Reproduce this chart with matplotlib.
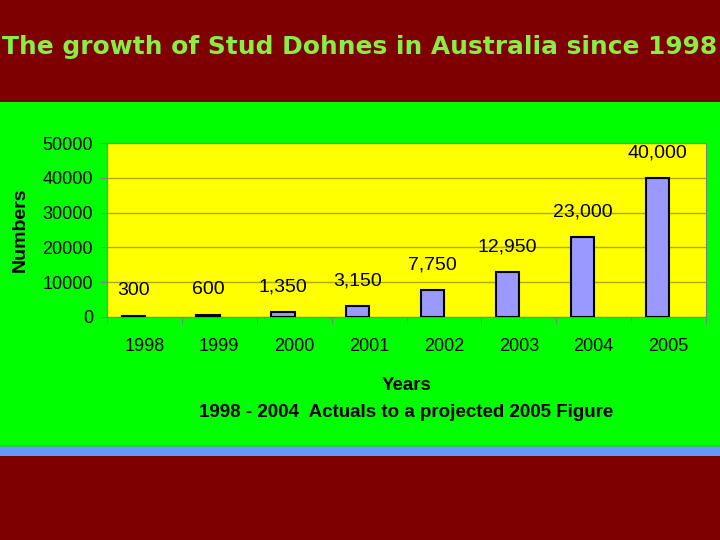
import matplotlib
matplotlib.use("Agg")
import matplotlib.pyplot as plt
from matplotlib.patches import Rectangle
import numpy as np

years = ["1998", "1999", "2000", "2001", "2002", "2003", "2004", "2005"]
numbers = [300, 600, 1350, 3150, 7750, 12950, 23000, 40000]
bar_labels = ["300", "600", "1,350", "3,150", "7,750", "12,950", "23,000", "40,000"]
yticks = [0, 10000, 20000, 30000, 40000, 50000]

plt.rcParams['font.family'] = ['Liberation Sans', 'DejaVu Sans']

fig = plt.figure(figsize=(7.2, 5.4), dpi=100)
fig.patch.set_facecolor('#7f0000')

# green panel and blue strip
fig.patches.append(Rectangle((0, 0.174), 1, 0.637, transform=fig.transFigure,
                             facecolor='#00ff00', edgecolor='none', zorder=-10))
fig.patches.append(Rectangle((0, 0.172), 1, 0.004, transform=fig.transFigure,
                             facecolor='#33bb66', edgecolor='none', zorder=-10))
fig.patches.append(Rectangle((0, 0.156), 1, 0.017, transform=fig.transFigure,
                             facecolor='#6699ff', edgecolor='none', zorder=-10))

fig.text(0.5, 0.913, "The growth of Stud Dohnes in Australia since 1998",
         ha='center', va='center', fontsize=17.95, color='#88ee44',
         family=['DejaVu Sans'], fontweight='bold')

ax = fig.add_axes([0.1486, 0.413, 0.832, 0.322])
ax.set_zorder(5)
ax.set_facecolor('#ffff00')

x = np.arange(len(years))
ax.bar(x - 0.15, numbers, width=0.31, color='#9999ff', edgecolor='black',
       linewidth=1.5, zorder=3)
for xi, v, lab in zip(x, numbers, bar_labels):
    ax.annotate(lab, (xi - 0.15, v), xytext=(0, 18), textcoords='offset points',
                ha='center', va='center', fontsize=14, color='black')

ax.set_xlim(-0.5, len(years) - 0.5)
ax.set_ylim(0, 50000)
ax.set_yticks(yticks)
ax.set_yticklabels([str(t) for t in yticks], fontsize=13)
ax.set_xticks(x)
ax.set_xticklabels(years, fontsize=13)
ax.set_xticks(np.arange(len(years) + 1) - 0.5, minor=True)
ax.tick_params(axis='x', which='major', length=0, pad=15)
ax.tick_params(axis='x', which='minor', length=5, color='#808080')
ax.tick_params(axis='y', length=5, color='#808080', pad=5)
ax.grid(axis='y', color='#aaaa00', linewidth=1, zorder=1)
ax.set_axisbelow(True)
for s in ax.spines.values():
    s.set_color('#808080')

ax.set_ylabel("Numbers", fontsize=14, fontweight='bold', labelpad=10)
ax.set_xlabel("Years\n1998 - 2004  Actuals to a projected 2005 Figure",
              fontsize=13.5, fontweight='bold', labelpad=16, linespacing=1.75)

fig.savefig("out.png", dpi=100, facecolor=fig.get_facecolor())
